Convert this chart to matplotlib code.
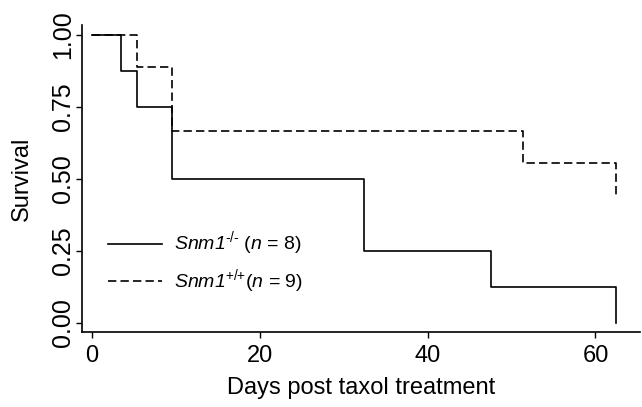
import matplotlib
matplotlib.use("Agg")
import matplotlib.pyplot as plt

plt.rcParams['font.family'] = ['Liberation Sans', 'DejaVu Sans']
plt.rcParams['mathtext.fontset'] = 'custom'
plt.rcParams['mathtext.rm'] = 'Liberation Sans'
plt.rcParams['mathtext.sf'] = 'Liberation Sans:italic'

# Kaplan-Meier steps
ko_days = [0, 3.5, 5.4, 9.6, 32.4, 47.5, 62.5]
ko_surv = [1.0, 0.875, 0.75, 0.5, 0.25, 0.125, 0.0]
wt_days = [0, 5.4, 9.6, 51.4, 62.5]
wt_surv = [1.0, 8 / 9, 6 / 9, 5 / 9, 4 / 9]

# sf font is mapped to italic so the digit in Snm1 is slanted too
ko_label = r'$\mathsf{Snm1}^{\text{-/-}}$ ($\mathsf{n}$ = 8)'
wt_label = r'$\mathsf{Snm1}^{\text{+/+}}$($\mathsf{n}$ = 9)'

x_ticks = [0, 20, 40, 60]
y_ticks = [0.0, 0.25, 0.5, 0.75, 1.0]
y_tick_labels = ['0.00', '0.25', '0.50', '0.75', '1.00']

fig = plt.figure(figsize=(6.42, 4.07), dpi=100)
ax = fig.add_axes([82 / 642, 75 / 407, 558 / 642, 307 / 407])

ax.step(ko_days, ko_surv, where='post', color='black', lw=1.2, label=ko_label)
wt_line, = ax.step(wt_days, wt_surv, where='post', color='black', lw=1.2, label=wt_label)
wt_line.set_dashes([5, 2.5])

ax.set_xlim(-1.15, 65.3)
ax.set_ylim(-0.033, 1.035)
ax.set_xticks(x_ticks)
ax.set_yticks(y_ticks)
ax.set_yticklabels(y_tick_labels, rotation=90, va='center')

for side in ['top', 'right']:
    ax.spines[side].set_visible(False)
for side in ['left', 'bottom']:
    ax.spines[side].set_linewidth(1.2)

ax.tick_params(axis='x', direction='out', length=4.5, width=1, labelsize=17, pad=5)
ax.tick_params(axis='y', direction='out', length=4, width=1, labelsize=18, pad=1)

ax.set_xlabel('Days post taxol treatment', fontsize=17, labelpad=7)
ax.set_ylabel('Survival', fontsize=17, labelpad=13)

leg = ax.legend(loc='upper left', bbox_to_anchor=(0.015, 0.39), frameon=False,
                fontsize=14, handlelength=2.8, handletextpad=0.6, labelspacing=0.45)

fig.savefig('out.png', dpi=100)
